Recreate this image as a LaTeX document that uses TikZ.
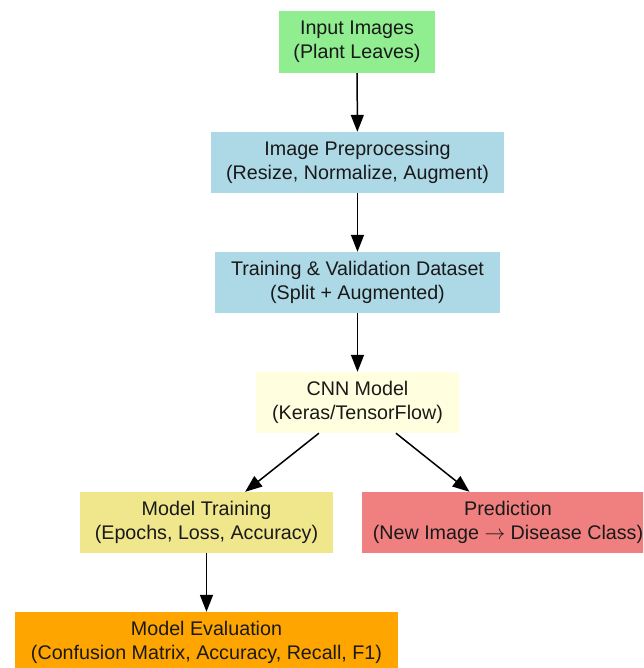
\documentclass[tikz,border=0pt]{standalone}
\usepackage{fontspec}
\setmainfont{Liberation Sans}
\usetikzlibrary{arrows.meta}
\definecolor{cgreen}{HTML}{90EE90}
\definecolor{cblue}{HTML}{ADD8E6}
\definecolor{cyellow}{HTML}{FFFFE0}
\definecolor{ckhaki}{HTML}{F0E68C}
\definecolor{ccoral}{HTML}{F08080}
\definecolor{corange}{HTML}{FFA500}
\begin{document}
\begin{tikzpicture}[x=1pt,y=-1pt,
  box/.style={rectangle, draw=none, inner sep=0pt, align=center,
    font=\fontsize{19.7}{24}\selectfont, text=black!90, minimum height=61pt},
  flow/.style={-{Triangle[length=17pt,width=13pt]}, line width=1.5pt, black}]
\useasboundingbox (0,0) rectangle (643,668);
\clip (0,0) rectangle (643,668);
\node[box, fill=cgreen, minimum width=156pt, minimum height=62pt] (inp) at (357,42) {Input Images\\(Plant Leaves)};
\node[box, fill=cblue, minimum width=293pt] (pre) at (357.5,162.5) {Image Preprocessing\\(Resize, Normalize, Augment)};
\node[box, fill=cblue, minimum width=285pt] (data) at (357.5,282.5) {Training \& Validation Dataset\\(Split + Augmented)};
\node[box, fill=cyellow, minimum width=203pt] (cnn) at (357.5,402.5) {CNN Model\\(Keras/TensorFlow)};
\node[box, fill=ckhaki, minimum width=253pt] (train) at (206.5,522.5) {Model Training\\(Epochs, Loss, Accuracy)};
\node[box, fill=ccoral, minimum width=292pt] (pred) at (508,522.5) {Prediction\\(New Image \(\rightarrow\) Disease Class)};
\node[box, fill=corange, minimum width=383pt] (eval) at (206.5,642.5) {Model Evaluation\\(Confusion Matrix, Accuracy, Recall, F1)};
\draw[flow] (inp) -- (pre);
\draw[flow] (pre) -- (data);
\draw[flow] (data) -- (cnn);
\draw[flow] (cnn) -- (train);
\draw[flow] (cnn) -- (pred);
\draw[flow] (train) -- (eval);
\end{tikzpicture}
\end{document}
